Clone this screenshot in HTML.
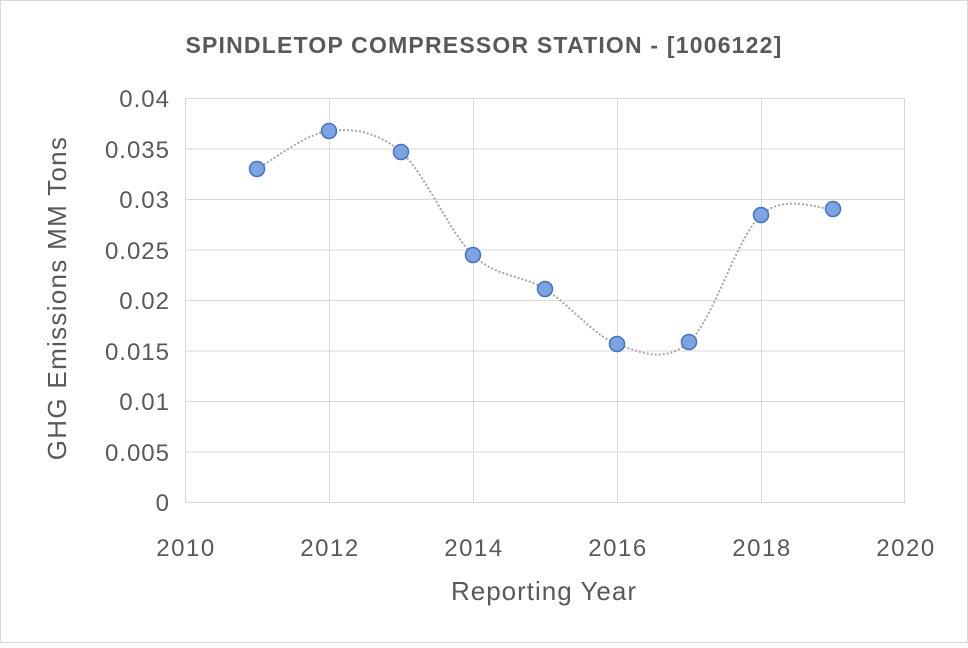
<!DOCTYPE html>
<html><head><meta charset="utf-8"><style>
html,body{margin:0;padding:0;background:#fff}
svg text{font-family:"Liberation Sans",sans-serif;fill:#595959}
</style></head><body>
<svg width="968" height="643" viewBox="0 0 968 643" xmlns="http://www.w3.org/2000/svg">
<rect x="0.5" y="0.5" width="967" height="642" fill="#fff" stroke="#d9d9d9"/>
<text x="484" y="53" text-anchor="middle" font-size="23" font-weight="bold" letter-spacing="1.2">SPINDLETOP COMPRESSOR STATION - [1006122]</text>
<g stroke="#d9d9d9" stroke-width="1">
<line x1="185" y1="98.5" x2="905" y2="98.5"/><line x1="185" y1="149" x2="905" y2="149"/>
<line x1="185" y1="199.5" x2="905" y2="199.5"/><line x1="185" y1="250" x2="905" y2="250"/>
<line x1="185" y1="300.5" x2="905" y2="300.5"/><line x1="185" y1="351" x2="905" y2="351"/>
<line x1="185" y1="401.5" x2="905" y2="401.5"/><line x1="185" y1="452" x2="905" y2="452"/>
<line x1="185" y1="502.5" x2="905" y2="502.5"/>
<line x1="185.5" y1="98" x2="185.5" y2="502"/><line x1="329.5" y1="98" x2="329.5" y2="502"/>
<line x1="473.5" y1="98" x2="473.5" y2="502"/><line x1="617.5" y1="98" x2="617.5" y2="502"/>
<line x1="761.5" y1="98" x2="761.5" y2="502"/><line x1="904.5" y1="98" x2="904.5" y2="502"/>
</g>
<g font-size="24" text-anchor="end" letter-spacing="1">
<text x="170" y="107">0.04</text><text x="170" y="158">0.035</text><text x="170" y="208">0.03</text>
<text x="170" y="259">0.025</text><text x="170" y="309">0.02</text><text x="170" y="360">0.015</text>
<text x="170" y="410">0.01</text><text x="170" y="461">0.005</text><text x="170" y="511">0</text>
</g>
<g font-size="24" text-anchor="middle" letter-spacing="1.5">
<text x="186" y="556">2010</text><text x="330" y="556">2012</text><text x="474" y="556">2014</text>
<text x="618" y="556">2016</text><text x="762" y="556">2018</text><text x="906" y="556">2020</text>
</g>
<text x="544" y="600" text-anchor="middle" font-size="26" letter-spacing="1">Reporting Year</text>
<text transform="translate(66,298) rotate(-90)" text-anchor="middle" font-size="26" letter-spacing="1.3">GHG Emissions MM Tons</text>
<path d="M257,169 C269,162.7 305,133.8 329,131 C353,128.2 377,131.3 401,152 C425,172.7 449,232.2 473,255 C497,277.8 521,274.2 545,289 C569,303.8 593,335.2 617,344 C641,352.8 665,363.5 689,342 C713,320.5 737,237.2 761,215 C785,192.8 821,210 833,209" fill="none" stroke="#a6a6a6" stroke-width="2" stroke-dasharray="2,2"/>
<g fill="#7da3e0" stroke="#4472c4" stroke-width="1.5">
<circle cx="257" cy="169" r="7.5"/><circle cx="329" cy="131" r="7.5"/><circle cx="401" cy="152" r="7.5"/>
<circle cx="473" cy="255" r="7.5"/><circle cx="545" cy="289" r="7.5"/><circle cx="617" cy="344" r="7.5"/>
<circle cx="689" cy="342" r="7.5"/><circle cx="761" cy="215" r="7.5"/><circle cx="833" cy="209" r="7.5"/>
</g>
</svg>
</body></html>
